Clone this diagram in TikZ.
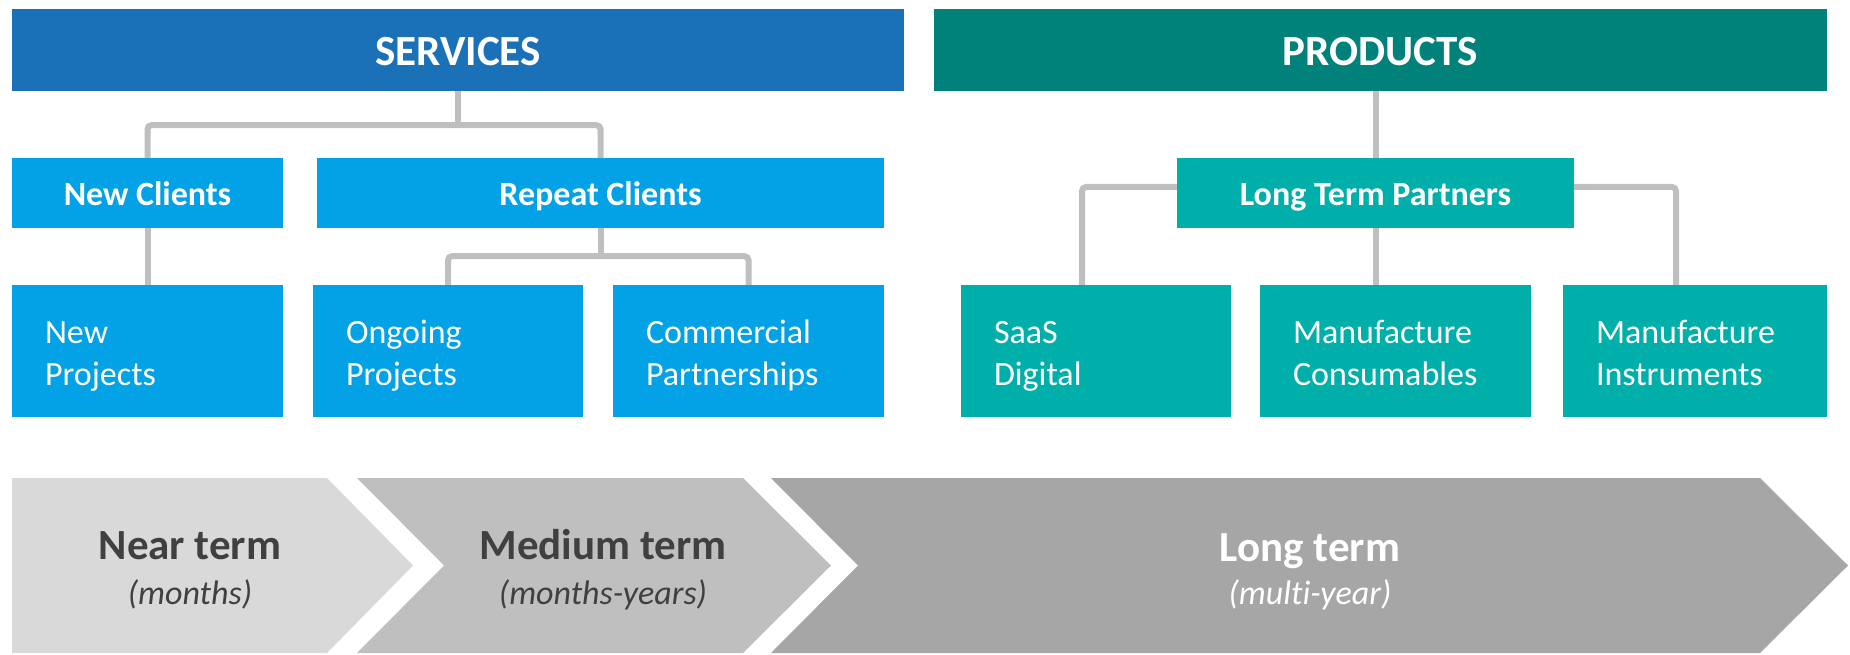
\documentclass[tikz,border=0pt]{standalone}
\usepackage{fontspec}
\setmainfont{Carlito}[Ligatures=NoCommon]
\usepackage{tikz}
\usetikzlibrary{calc, positioning}

\definecolor{servblue}{RGB}{27,113,183}
\definecolor{prodteal}{RGB}{0,129,122}
\definecolor{clientblue}{RGB}{3,162,230}
\definecolor{partnerteal}{RGB}{0,175,170}
\definecolor{linegray}{RGB}{191,191,191}
\definecolor{nearfill}{RGB}{217,217,217}
\definecolor{midfill}{RGB}{191,191,191}
\definecolor{longfill}{RGB}{166,166,166}
\definecolor{textdark}{RGB}{64,64,64}

\begin{document}
\begin{tikzpicture}[x=1pt, y=-1pt]
  % Define styles
  \tikzstyle{header} = [rectangle, minimum height=82pt, inner sep=0pt, text height=30.8pt, text depth=0pt, text=white, font=\fontsize{43}{52}\selectfont\bfseries]
  \tikzstyle{client} = [rectangle, minimum height=70pt, inner sep=0pt, text height=24.4pt, text depth=0pt, text=white, font=\fontsize{34}{41}\selectfont\bfseries]
  \tikzstyle{leaf} = [rectangle, minimum width=271pt, minimum height=132pt, text width=205pt, inner sep=0pt, text height=24pt, text depth=40pt, text=white, align=left, font=\fontsize{34}{42}\selectfont]
  \tikzstyle{phasetitle} = [anchor=base, inner sep=0pt, font=\fontsize{43}{52}\selectfont\bfseries]
  \tikzstyle{phasenote} = [anchor=base, inner sep=0pt, font=\fontsize{34}{41}\selectfont\itshape]
  \tikzstyle{line} = [draw=linegray, line width=6pt, rounded corners=4pt]

  \useasboundingbox (0,0) rectangle (1850,655);

  % Place nodes
  \node [header, fill=servblue, minimum width=892pt] (services) at (458,50) {SERVICES};
  \node [header, fill=prodteal, minimum width=893pt] (products) at (1380.5,50) {PRODUCTS};

  \node [client, fill=clientblue, minimum width=271pt] (newcl) at (147.5,193) {New Clients};
  \node [client, fill=clientblue, minimum width=567pt] (repeatcl) at (600.5,193) {Repeat Clients};
  \node [client, fill=partnerteal, minimum width=397pt] (longtp) at (1375.5,193) {Long Term Partners};

  \node [leaf, fill=clientblue] (newproj) at (147.5,351) {New\\Projects};
  \node [leaf, fill=clientblue, minimum width=270pt, text width=204pt] (ongoing) at (448,351) {Ongoing\\Projects};
  \node [leaf, fill=clientblue] (commercial) at (748.5,351) {Commercial\\Partnerships};
  \node [leaf, fill=partnerteal, minimum width=270pt, text width=204pt] (saas) at (1096,351) {SaaS\\Digital};
  \node [leaf, fill=partnerteal] (consum) at (1395.5,351) {Manufacture\\Consumables};
  \node [leaf, fill=partnerteal, minimum width=264pt, text width=198pt] (instr) at (1695,351) {Manufacture\\Instruments};

  % Draw edges
  \coordinate (servhub) at ($(services.south)+(0,34)$);
  \path [line] (services.south) -- (servhub);
  \path [line] (newcl.north) |- (servhub) -| (repeatcl.north);
  \path [line] (newcl.south) -- (newproj.north);
  \coordinate (rephub) at ($(repeatcl.south)+(0,28)$);
  \path [line] (repeatcl.south) -- (rephub);
  \path [line] (ongoing.north) |- (rephub) -| (commercial.north);

  \path [line] (products.south -| longtp.north) -- (longtp.north);
  \path [line] ([yshift=6pt]longtp.west) -| ([xshift=-14pt]saas.north);
  \path [line] ([yshift=6pt]longtp.east) -| ([xshift=-19pt]instr.north);
  \path [line] (longtp.south) -- (longtp.south |- consum.north);

  % Time line chevrons
  \fill [nearfill] (12,478) -- (327,478) -- (413,565.5) -- (327,653) -- (12,653) -- cycle;
  \fill [midfill] (357,478) -- (743,478) -- (831,565.5) -- (743,653) -- (357,653) -- (444,565.5) -- cycle;
  \fill [longfill] (771,478) -- (1760,478) -- (1848,565.5) -- (1760,653) -- (771,653) -- (858,565.5) -- cycle;

  \node [phasetitle, text=textdark] (nearT) at (190,559) {Near term};
  \node [phasenote, text=textdark] (nearN) at (190,604) {(months)};
  \node [phasetitle, text=textdark] (midT) at (603,559) {Medium term};
  \node [phasenote, text=textdark] (midN) at (603,604) {(months-years)};
  \node [phasetitle, text=white] (longT) at (1310,561) {Long term};
  \node [phasenote, text=white] (longN) at (1310,604) {(multi-year)};

\end{tikzpicture}
\end{document}
